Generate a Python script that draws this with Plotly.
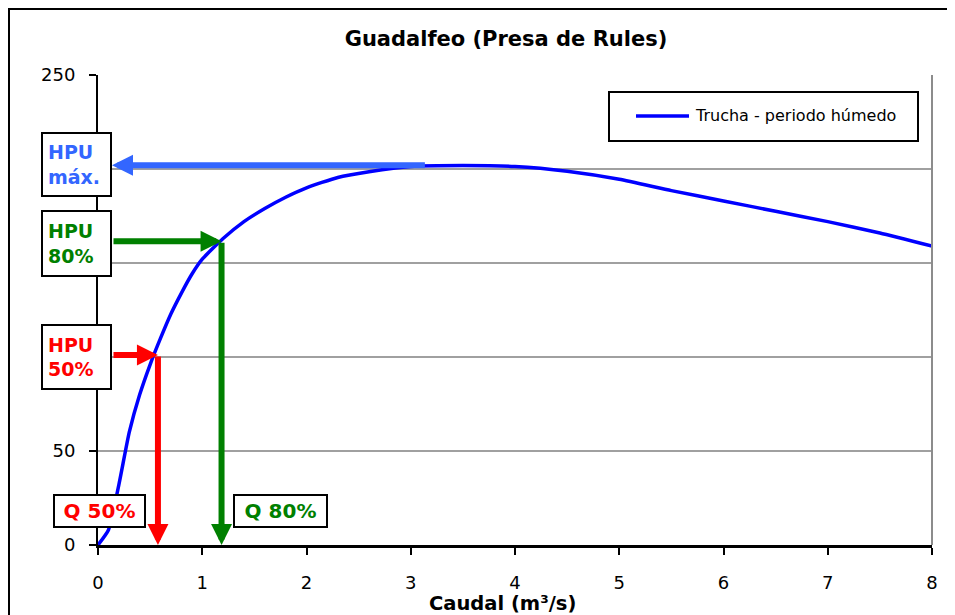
import plotly.graph_objects as go

# ---- data ----
caudal = [0, 0.1, 0.2, 0.3, 0.4, 0.5, 0.6, 0.7, 0.8, 0.9, 1.0, 1.2, 1.4, 1.6, 1.8,
          2.0, 2.3, 2.6, 3.0, 3.5, 4.0, 4.5, 5.0, 5.5, 6.0, 6.5, 7.0, 7.5, 8.0]
hpu = [0, 8, 32, 60, 80, 96, 110, 123, 134, 144, 152, 163, 172, 179, 185,
       190, 195.5, 198.5, 201.3, 201.8, 201.3, 198.8, 194.5, 188.5, 183, 177.5, 172, 166, 159]
serie_nombre = "Trucha - periodo húmedo"
hpu_max = 202
hpu_80 = 0.8 * hpu_max
hpu_50 = 0.5 * hpu_max
q_80 = 1.185
q_50 = 0.575
x_ticks = [0, 1, 2, 3, 4, 5, 6, 7, 8]
y_ticks = [0, 50, 100, 150, 200, 250]
y_ticktext = ["0", "50", "", "", "", "250"]  # 100-200 are hidden behind the HPU boxes

FONT = "DejaVu Sans"
BLUE_ARROW = "#3366FF"
GREEN = "#008000"
RED = "#FF0000"

# page offset of the figure inside the browser page (body margin)
OFF = 8
W, H = 955 - OFF, 615 - OFF
# plot area in screenshot pixels
L, R, T, B = 98, 932, 75, 545


def px(xp):
    return (xp - L) / (R - L)


def py(yp):
    return (B - yp) / (B - T)


fig = go.Figure()
fig.add_trace(go.Scatter(x=caudal, y=hpu, mode="lines", name=serie_nombre,
                         line=dict(color="#0000FF", width=3.5, shape="spline", smoothing=0.5),
                         showlegend=False))

shapes = []
# outer chart frame
shapes.append(dict(type="rect", xref="paper", yref="paper", x0=px(9), x1=px(975),
                   y0=py(640), y1=py(9), line=dict(color="black", width=2)))
# right plot border
shapes.append(dict(type="line", xref="paper", yref="paper", x0=1, x1=1, y0=0, y1=1,
                   line=dict(color="#8c8c8c", width=2)))
# manual legend
shapes.append(dict(type="rect", xref="paper", yref="paper", x0=px(609), x1=px(918),
                   y0=py(141), y1=py(92), line=dict(color="black", width=2), fillcolor="white"))
shapes.append(dict(type="line", xref="paper", yref="paper", x0=px(636), x1=px(689),
                   y0=py(116), y1=py(116), line=dict(color="#0000FF", width=3.5)))

annotations = []
annotations.append(dict(xref="paper", yref="paper", x=px(693), y=py(116), xanchor="left",
                        yanchor="middle", text=serie_nombre, showarrow=False,
                        font=dict(family=FONT, size=16, color="black")))


def arrow(xh, yh, xt, yt, color):
    return dict(x=xh, y=yh, ax=xt, ay=yt, xref="x", yref="y", axref="x", ayref="y",
                text="", showarrow=True, arrowhead=2, arrowsize=0.7, arrowwidth=6,
                arrowcolor=color, standoff=0, startstandoff=0)


x_box_edge = (112 - L) / ((R - L) / 8)
annotations.append(arrow(x_box_edge, hpu_max, 3.15, hpu_max, BLUE_ARROW))
annotations.append(arrow(q_80, hpu_80, x_box_edge, hpu_80, GREEN))
annotations.append(arrow(q_80, 0, q_80, hpu_80, GREEN))
annotations.append(arrow(q_50, hpu_50, x_box_edge, hpu_50, RED))
annotations.append(arrow(q_50, 0, q_50, hpu_50, RED))


def box(x0, y0, x1, y1, text, color, align="left", pad=5, size=19):
    bw = 2
    return dict(xref="paper", yref="paper", x=px(x0), y=py(y0), xanchor="left", yanchor="top",
                width=(x1 - x0) - 2 * (bw + pad), height=(y1 - y0) - 2 * (bw + pad),
                text=text, showarrow=False, align=align, valign="middle",
                bgcolor="white", bordercolor="black", borderwidth=bw, borderpad=pad,
                font=dict(family=FONT, size=size, color=color))


annotations.append(box(41, 132, 112, 197, "<b>HPU<br>máx.</b>", BLUE_ARROW))
annotations.append(box(41, 210, 112, 277, "<b>HPU<br>80%</b>", GREEN))
annotations.append(box(41, 324, 112, 390, "<b>HPU<br>50%</b>", RED))
annotations.append(box(53, 494, 146, 528, "<b>Q 50%</b>", RED, align="center", pad=2, size=20))
annotations.append(box(233, 494, 328, 528, "<b>Q 80%</b>", GREEN, align="center", pad=2, size=20))

# x axis title
annotations.append(dict(xref="paper", yref="paper", x=px(502), y=py(603), xanchor="center",
                        yanchor="middle", text="<b>Caudal (m³/s)</b>", showarrow=False,
                        font=dict(family=FONT, size=19.5, color="black")))

fig.update_layout(
    width=W, height=H,
    margin=dict(l=L - OFF, r=W - (R - OFF), t=T - OFF, b=H - (B - OFF), autoexpand=False),
    paper_bgcolor="white", plot_bgcolor="white",
    title=dict(text="<b>Guadalfeo (Presa de Rules)</b>", xref="container", yref="container",
               x=(506 - OFF) / W, y=1 - (39 - OFF) / H, xanchor="center", yanchor="middle",
               font=dict(family=FONT, size=21, color="black")),
    xaxis=dict(range=[0, 8], tickvals=x_ticks, showgrid=False, zeroline=False,
               showline=True, linecolor="black", linewidth=3,
               ticks="outside", ticklen=7, tickwidth=2, tickcolor="black",
               ticklabelstandoff=12,
               tickfont=dict(family=FONT, size=18, color="black")),
    yaxis=dict(range=[0, 250], tickvals=y_ticks, ticktext=y_ticktext, showgrid=True,
               gridcolor="#a0a0a0", gridwidth=2, zeroline=False, showline=True,
               linecolor="black", linewidth=2,
               ticks="outside", ticklen=7, tickwidth=2, tickcolor="black",
               ticklabelstandoff=10,
               tickfont=dict(family=FONT, size=18, color="black")),
    shapes=shapes,
    annotations=annotations,
    showlegend=False,
)

fig.write_html("out.html")
